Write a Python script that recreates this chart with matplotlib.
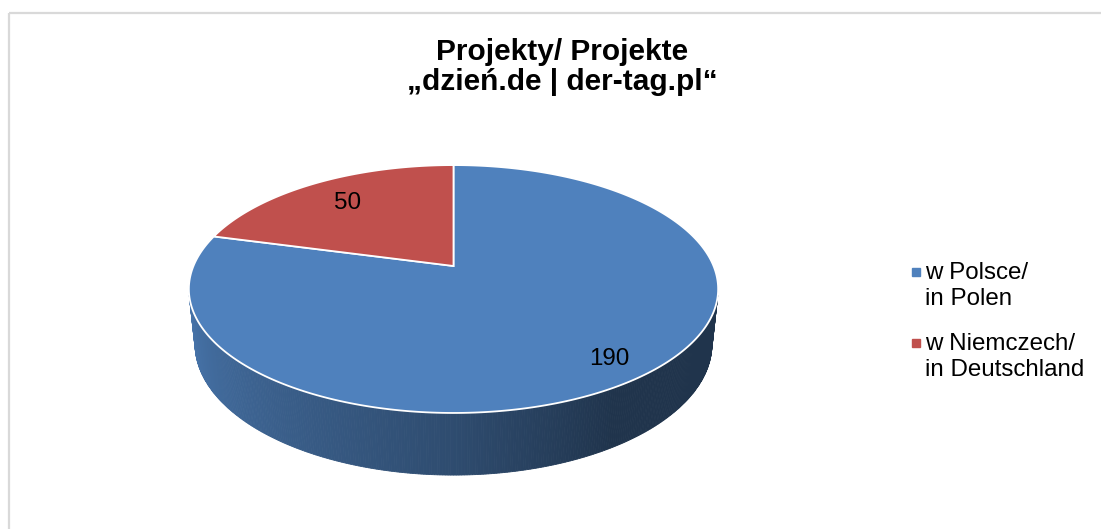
import numpy as np
import matplotlib
matplotlib.use('Agg')
import matplotlib.pyplot as plt
from matplotlib.patches import Polygon, Rectangle
from matplotlib.colors import to_rgb

# ---- data ----
categories = ['w Polsce/\nin Polen', 'w Niemczech/\nin Deutschland']
values = [190, 50]
colors = ['#4F81BD', '#C0504D']
title = 'Projekty/ Projekte\n„dzień.de | der-tag.pl“'

FONT = 'Liberation Sans'

fig = plt.figure(figsize=(11.01, 5.29), dpi=100)
ax = fig.add_axes([0, 0, 1, 1])
ax.set_xlim(0, 1101)
ax.set_ylim(529, 0)
ax.axis('off')

# chart frame
ax.add_patch(Rectangle((9, 13), 1200, 600, fill=False, edgecolor='#d9d9d9', lw=1.6))

# ---- 3D pie projection (perspective) ----
elev = np.radians(27.4)
SE, CE = np.sin(elev), np.cos(elev)
DIST, FOC = 4.78, 1243.0
CX, CY = 453.5, 266.0
H = 0.24
LABEL_R = [0.86, 0.74]


def proj(X, Y, Z):
    up = Y * SE + Z * CE
    depth = DIST + Y * CE - Z * SE
    return CX + FOC * X / depth, CY - FOC * up / depth


def shade(tdeg):
    t = tdeg % 360
    return np.interp(t, [195, 270, 302, 360], [0.90, 0.59, 0.40, 0.40])


total = float(sum(values))
start = 90.0
slices = []
cum = 0.0
for v in values:
    t1 = start - cum / total * 360.0
    t2 = t1 - v / total * 360.0
    slices.append((t2, t1))
    cum += v

# side walls (front-facing only)
limit = -1.0 / (DIST * CE)
for (t2, t1), col in zip(slices, colors):
    base = np.array(to_rgb(col))
    n = max(int(abs(t1 - t2) * 2), 2)
    ts = np.linspace(t2, t1, n + 1)
    for a, b in zip(ts[:-1], ts[1:]):
        m = np.radians((a + b) / 2)
        if np.sin(m) >= limit:
            continue
        ra, rb = np.radians(a), np.radians(b)
        pts = [proj(np.cos(ra), np.sin(ra), 0), proj(np.cos(rb), np.sin(rb), 0),
               proj(np.cos(rb), np.sin(rb), -H), proj(np.cos(ra), np.sin(ra), -H)]
        c = np.clip(base * shade((a + b) / 2), 0, 1)
        ax.add_patch(Polygon(pts, closed=True, facecolor=c, edgecolor=c, lw=0.6))

# tops
for (t2, t1), col in zip(slices, colors):
    ts = np.radians(np.linspace(t2, t1, 300))
    pts = [proj(0, 0, 0)] + [proj(np.cos(t), np.sin(t), 0) for t in ts]
    ax.add_patch(Polygon(pts, closed=True, facecolor=col, edgecolor='white', lw=1.3))

# data labels
for (t2, t1), v, r in zip(slices, values, LABEL_R):
    m = np.radians((t1 + t2) / 2)
    x, y = proj(r * np.cos(m), r * np.sin(m), 0)
    ax.text(x, y, str(v), ha='center', va='center', fontsize=17.4, family=FONT, color='black')

# title
ax.text(562, 67, title, ha='center', va='center', fontsize=21.5, weight='bold',
        family=FONT, linespacing=1.12, color='black')

# legend
for i, (lab, col) in enumerate(zip(categories, colors)):
    y0 = 272 + i * 71
    ax.plot([916], [y0], marker='s', ms=5.5, color=col, ls='none')
    ax.text(925, y0 - 10, lab, ha='left', va='top', fontsize=17.4, family=FONT,
            linespacing=1.25, color='black')

fig.savefig('out.png', dpi=100)
